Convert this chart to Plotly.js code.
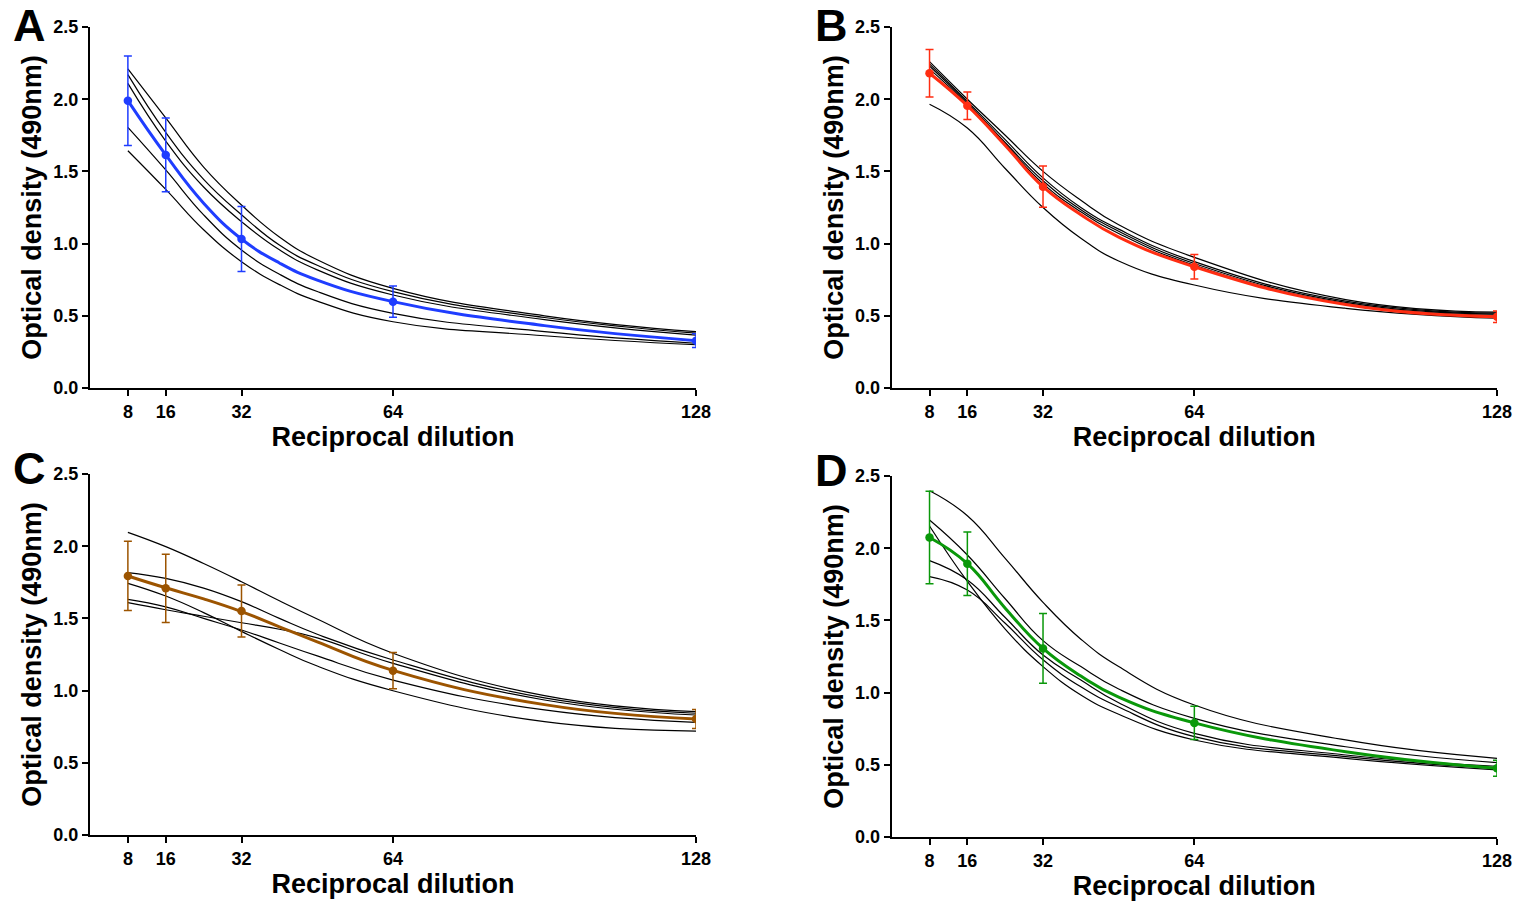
<!DOCTYPE html>
<html>
<head>
<meta charset="utf-8">
<script src="https://cdn.plot.ly/plotly-3.0.1.min.js"></script>
<style>
  html, body { margin: 0; padding: 0; background: #fff; }
  #chart { width: 1517px; height: 904px; }
</style>
</head>
<body>
<div id="chart"></div>
<script>
// Dilution points where the mean OD was measured
const dilutions = [8, 16, 32, 64, 128];
// Grid on which the fitted curves are tabulated
const fitX = [8, 16, 24, 32, 40, 48, 64, 96, 128];

const xTickVals = [8, 16, 32, 64, 128];
const xTickText = ['8', '16', '32', '64', '128'];
const yTickVals = [0, 0.5, 1.0, 1.5, 2.0, 2.5];
const yTickText = ['0.0', '0.5', '1.0', '1.5', '2.0', '2.5'];

const panelLabels = ['A', 'B', 'C', 'D'];

// Panel A
const meanA = [1.99, 1.614, 1.032, 0.598, 0.328];
const sdA = [0.31, 0.255, 0.225, 0.108, 0.048];
const meanFitA = [1.99, 1.614, 1.28, 1.032, 0.866, 0.747, 0.598, 0.432, 0.328];
const fitA1 = [2.21, 1.87, 1.53, 1.267, 1.046, 0.888, 0.69, 0.50, 0.39];
const fitA2 = [2.17, 1.77, 1.445, 1.20, 0.99, 0.85, 0.667, 0.488, 0.38];
const fitA3 = [2.11, 1.71, 1.392, 1.152, 0.957, 0.818, 0.644, 0.474, 0.366];
const fitA4 = [1.805, 1.51, 1.199, 0.956, 0.788, 0.668, 0.517, 0.391, 0.31];
const fitA5 = [1.643, 1.375, 1.096, 0.875, 0.716, 0.602, 0.459, 0.362, 0.30];

// Panel B
const meanB = [2.18, 1.955, 1.394, 0.84, 0.494];
const sdB = [0.165, 0.095, 0.143, 0.085, 0.04];
const meanFitB = [2.18, 1.955, 1.68, 1.394, 1.20, 1.045, 0.84, 0.578, 0.494];
const fitB1 = [2.26, 2.00, 1.75, 1.50, 1.30, 1.13, 0.905, 0.612, 0.525];
const fitB2 = [2.245, 1.985, 1.72, 1.455, 1.25, 1.10, 0.875, 0.602, 0.518];
const fitB3 = [2.23, 1.975, 1.70, 1.435, 1.235, 1.085, 0.862, 0.593, 0.512];
const fitB4 = [2.21, 1.965, 1.69, 1.415, 1.22, 1.07, 0.85, 0.585, 0.505];
const fitB5 = [1.965, 1.80, 1.52, 1.25, 1.037, 0.88, 0.713, 0.552, 0.483];

// Panel C
const meanC = [1.794, 1.708, 1.551, 1.138, 0.803];
const sdC = [0.24, 0.237, 0.18, 0.126, 0.066];
const meanFitC = [1.794, 1.712, 1.635, 1.547, 1.442, 1.338, 1.14, 0.903, 0.803];
const fitC1 = [2.096, 1.997, 1.88, 1.754, 1.622, 1.496, 1.259, 0.965, 0.854];
const fitC2 = [1.817, 1.777, 1.71, 1.616, 1.50, 1.39, 1.212, 0.95, 0.843];
const fitC3 = [1.743, 1.655, 1.54, 1.41, 1.285, 1.17, 0.999, 0.785, 0.72];
const fitC4 = [1.632, 1.58, 1.50, 1.42, 1.33, 1.24, 1.073, 0.866, 0.78];
const fitC5 = [1.609, 1.56, 1.515, 1.47, 1.425, 1.365, 1.189, 0.935, 0.831];

// Panel D
const meanD = [2.074, 1.893, 1.306, 0.79, 0.476];
const sdD = [0.32, 0.22, 0.242, 0.115, 0.055];
const meanFitD = [2.074, 1.893, 1.585, 1.306, 1.115, 0.968, 0.79, 0.59, 0.476];
const fitD1 = [2.398, 2.225, 1.93, 1.625, 1.37, 1.18, 0.914, 0.672, 0.545];
const fitD2 = [2.195, 1.953, 1.65, 1.36, 1.18, 1.025, 0.822, 0.625, 0.515];
const fitD3 = [2.154, 1.77, 1.44, 1.18, 0.983, 0.85, 0.672, 0.545, 0.465];
const fitD4 = [1.914, 1.78, 1.52, 1.26, 1.087, 0.93, 0.718, 0.568, 0.49];
const fitD5 = [1.803, 1.71, 1.48, 1.227, 1.04, 0.90, 0.695, 0.556, 0.476];

const panels = [
  { ax: '',  color: '#1f3dff', mean: meanA, sd: sdA, meanFit: meanFitA, fits: [fitA1, fitA2, fitA3, fitA4, fitA5] },
  { ax: '2', color: '#ff2d12', mean: meanB, sd: sdB, meanFit: meanFitB, fits: [fitB1, fitB2, fitB3, fitB4, fitB5] },
  { ax: '3', color: '#9c5400', mean: meanC, sd: sdC, meanFit: meanFitC, fits: [fitC1, fitC2, fitC3, fitC4, fitC5] },
  { ax: '4', color: '#0a980a', mean: meanD, sd: sdD, meanFit: meanFitD, fits: [fitD1, fitD2, fitD3, fitD4, fitD5] }
];

const W = 1517, H = 904;
// plot-area boxes in pixels: [left, right, top, bottom]
const boxes = [
  [90, 696, 27, 388],
  [891.7, 1497, 27, 388],
  [90, 696, 474, 835],
  [891.7, 1497, 476, 837]
];

const FONT = 'Arial, "Liberation Sans", Helvetica, sans-serif';

const traces = [];
panels.forEach(p => {
  const xa = 'x' + p.ax, ya = 'y' + p.ax;
  p.fits.forEach(f => {
    traces.push({
      x: fitX, y: f, xaxis: xa, yaxis: ya, type: 'scatter', mode: 'lines',
      line: { color: '#000', width: 1.2, shape: 'spline', smoothing: 1.3 },
      hoverinfo: 'skip', showlegend: false
    });
  });
  traces.push({
    x: fitX, y: p.meanFit, xaxis: xa, yaxis: ya, type: 'scatter', mode: 'lines',
    line: { color: p.color, width: 3, shape: 'spline', smoothing: 1.3 },
    showlegend: false
  });
  traces.push({
    x: dilutions, y: p.mean, xaxis: xa, yaxis: ya, type: 'scatter', mode: 'markers',
    marker: { color: p.color, size: 8.5 },
    error_y: { type: 'data', array: p.sd, visible: true, color: p.color, thickness: 1.5, width: 4 },
    showlegend: false
  });
});

const layout = {
  width: W, height: H,
  margin: { l: 0, r: 0, t: 0, b: 0 },
  paper_bgcolor: '#fff', plot_bgcolor: '#fff',
  font: { family: FONT, color: '#000' },
  showlegend: false,
  annotations: []
};

const letterPos = [[29, 26], [831, 26], [29, 469], [831, 470]];

boxes.forEach((b, i) => {
  const suf = i === 0 ? '' : String(i + 1);
  layout['xaxis' + suf] = {
    domain: [b[0] / W, b[1] / W],
    anchor: 'y' + suf,
    range: [0, 128],
    tickvals: xTickVals, ticktext: xTickText,
    ticks: 'outside', ticklen: 6, tickwidth: 2, tickcolor: '#000',
    showline: true, linecolor: '#000', linewidth: 2,
    showgrid: false, zeroline: false,
    tickfont: { family: FONT, size: 18, color: '#000', weight: 'bold' },
    title: { text: '<b>Reciprocal dilution</b>', font: { family: FONT, size: 27, color: '#000' }, standoff: 6 }
  };
  layout['yaxis' + suf] = {
    domain: [1 - b[3] / H, 1 - b[2] / H],
    anchor: 'x' + suf,
    range: [0, 2.5],
    tickvals: yTickVals, ticktext: yTickText,
    ticks: 'outside', ticklen: 6, tickwidth: 2, tickcolor: '#000',
    showline: true, linecolor: '#000', linewidth: 2,
    showgrid: false, zeroline: false,
    tickfont: { family: FONT, size: 18, color: '#000', weight: 'bold' },
    title: { text: '<b>Optical density (490nm)</b>', font: { family: FONT, size: 27, color: '#000' }, standoff: 4 }
  };
  layout.annotations.push({
    text: '<b>' + panelLabels[i] + '</b>',
    xref: 'paper', yref: 'paper',
    x: letterPos[i][0] / W, y: 1 - letterPos[i][1] / H,
    xanchor: 'center', yanchor: 'middle', showarrow: false,
    font: { family: FONT, size: 45, color: '#000' }
  });
});

Plotly.newPlot('chart', traces, layout, { displayModeBar: false, staticPlot: true });
</script>
</body>
</html>
